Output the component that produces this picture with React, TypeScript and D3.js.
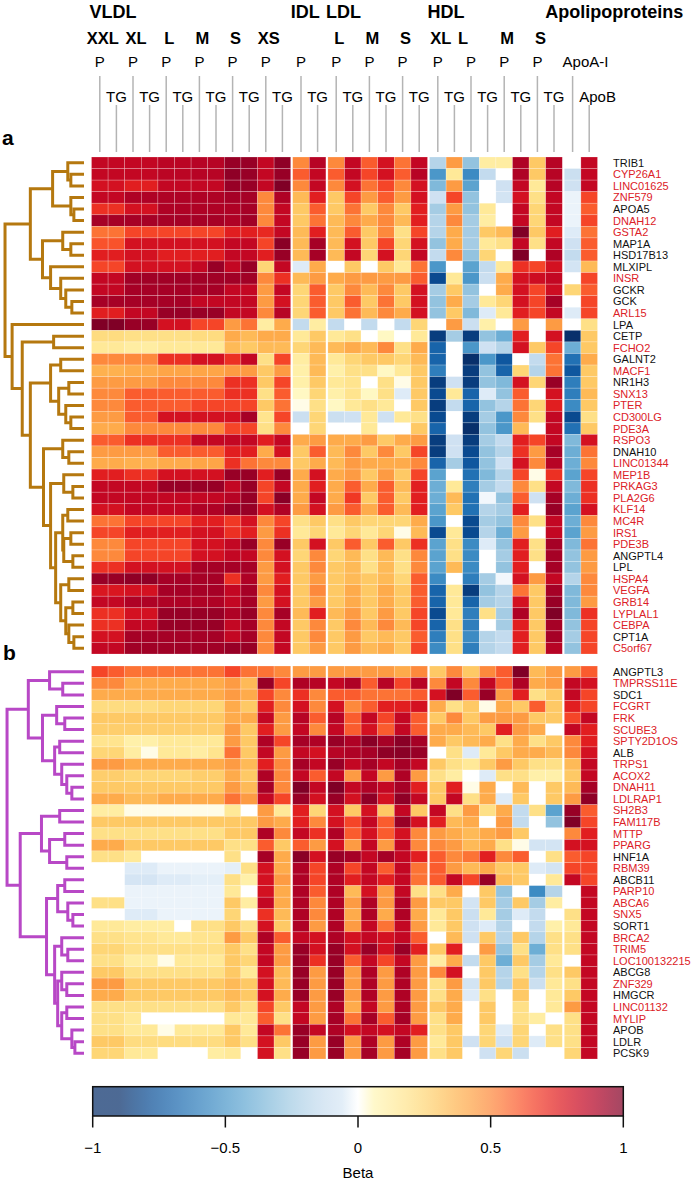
import * as d3 from 'd3';

// ---- data ----
const lipoGroups = ['VLDL', 'IDL', 'LDL', 'HDL', 'Apolipoproteins'];
const colGroup = [0,0,0,0,0,0,0,0,0,0,0,0, 1,1, 2,2,2,2,2,2, 3,3,3,3,3,3,3,3, 4,4];
const colSize = ['XXL','XXL','XL','XL','L','L','M','M','S','S','XS','XS','','','L','L','M','M','S','S','XL','XL','L','L','M','M','S','S','',''];
const colMeasure = ['P','TG','P','TG','P','TG','P','TG','P','TG','P','TG','P','TG','P','TG','P','TG','P','TG','P','TG','P','TG','P','TG','P','TG','ApoA-I','ApoB'];

const genesA = ['TRIB1','CYP26A1','LINC01625','ZNF579','APOA5','DNAH12','GSTA2','MAP1A','HSD17B13','MLXIPL','INSR','GCKR','GCK','ARL15','LPA','CETP','FCHO2','GALNT2','MACF1','NR1H3','SNX13','PTER','CD300LG','PDE3A','RSPO3','DNAH10','LINC01344','MEP1B','PRKAG3','PLA2G6','KLF14','MC4R','IRS1','PDE3B','ANGPTL4','LPL','HSPA4','VEGFA','GRB14','LYPLAL1','CEBPA','CPT1A','C5orf67'];
const genesB = ['ANGPTL3','TMPRSS11E','SDC1','FCGRT','FRK','SCUBE3','SPTY2D1OS','ALB','TRPS1','ACOX2','DNAH11','LDLRAP1','SH2B3','FAM117B','MTTP','PPARG','HNF1A','RBM39','ABCB11','PARP10','ABCA6','SNX5','SORT1','BRCA2','TRIM5','LOC100132215','ABCG8','ZNF329','HMGCR','LINC01132','MYLIP','APOB','LDLR','PCSK9'];
// loci shown in red
const novelGenes = ['CYP26A1','LINC01625','ZNF579','DNAH12','GSTA2','INSR','ARL15','FCHO2','MACF1','SNX13','PTER','CD300LG','PDE3A','RSPO3','LINC01344','MEP1B','PRKAG3','PLA2G6','KLF14','MC4R','IRS1','PDE3B','HSPA4','VEGFA','GRB14','LYPLAL1','CEBPA','C5orf67',
  'TMPRSS11E','FCGRT','FRK','SCUBE3','SPTY2D1OS','TRPS1','ACOX2','DNAH11','LDLRAP1','SH2B3','FAM117B','MTTP','PPARG','RBM39','PARP10','ABCA6','SNX5','BRCA2','TRIM5','LOC100132215','ZNF329','LINC01132','MYLIP'];

const betaA = [
  [0.85,0.85,0.85,0.85,0.87,0.87,0.88,0.88,0.95,0.95,0.85,0.97,0.5,0.88,0.5,0.85,0.6,0.8,0.55,0.85,-0.2,0.45,-0.3,0.12,0.12,0.9,0.3,0.88,0,0.85],
  [0.85,0.85,0.85,0.85,0.87,0.87,0.88,0.88,0.97,0.95,0.85,0.95,0.6,0.85,0.6,0.85,0.65,0.8,0.6,0.88,-0.5,0.15,-0.55,-0.15,0,0.9,0.3,0.88,-0.12,0.85],
  [0.8,0.8,0.75,0.75,0.85,0.85,0.85,0.85,0.95,0.95,0.85,1.0,0.5,0.85,0.5,0.8,0.55,0.65,0.5,0.8,-0.35,0.45,-0.45,0,-0.1,0.85,0.15,0.88,-0.1,0.85],
  [0.85,0.85,0.9,0.9,0.9,0.9,0.9,0.9,0.92,0.92,0.5,0.9,0.35,0.75,0.3,0.65,0.45,0.6,0.45,0.8,-0.1,0.65,-0.3,0,-0.08,0.8,0.2,0.85,-0.03,0.65],
  [0.7,0.7,0.8,0.8,0.9,0.9,0.9,0.9,0.9,0.92,0.5,0.85,0.3,0.6,0.3,0.55,0.3,0.5,0.3,0.75,-0.25,0.45,-0.3,0.15,0,0.85,0.25,0.85,-0.03,0.6],
  [0.92,0.92,0.92,0.92,0.92,0.92,0.92,0.92,0.9,0.93,0.5,0.85,0.3,0.55,0.35,0.5,0.4,0.5,0.35,0.75,-0.2,0.5,-0.25,0.12,0,0.85,0.25,0.85,-0.03,0.65],
  [0.55,0.55,0.65,0.65,0.65,0.65,0.65,0.65,0.75,0.75,0.72,0.85,0.35,0.75,0.35,0.6,0.3,0.5,0.2,0.65,-0.2,0.4,-0.25,0.3,0.35,1.0,0.3,0.75,-0.05,0.55],
  [0.62,0.62,0.8,0.8,0.8,0.8,0.8,0.8,0.85,0.85,0.65,0.98,0.35,0.92,0.35,0.8,0.3,0.65,0.25,0.8,-0.3,0.4,-0.25,0.15,0.2,0.85,0.2,0.85,-0.1,0.6],
  [0.75,0.75,0.8,0.8,0.75,0.75,0.75,0.75,0.85,0.85,0.75,0.95,0.35,0.92,0.35,0.85,0.25,0.8,0.25,0.85,-0.15,0.5,-0.3,0.25,0,1.0,0,0.9,-0.15,0.6],
  [0.65,0.65,0.8,0.8,0.8,0.8,0.85,0.95,0.85,0.95,0.25,0.85,-0.05,0.4,0,0.3,0,0.3,0.15,0.55,-0.5,0,-0.45,-0.15,0.15,0.7,0.65,0.8,-0.08,0.35],
  [0.85,0.85,0.93,0.93,0.93,0.93,0.93,0.93,0.93,0.93,0.5,0.7,0.35,0.45,0.4,0.45,0.45,0.45,0.45,0.6,-0.8,0.15,-0.5,-0.12,0.4,0.8,0.82,0.85,0,0.65],
  [0.85,0.85,0.92,0.92,0.92,0.92,0.92,0.92,0.85,0.85,0.45,0.85,0.25,0.6,0.3,0.5,0.35,0.5,0.3,0.8,-0.25,0.3,-0.3,0,0.4,0.8,0.65,0.82,0.25,0.6],
  [0.92,0.92,0.92,0.92,0.92,0.92,0.85,0.85,0.85,0.85,0.45,0.8,0.25,0.6,0.3,0.6,0.3,0.55,0.3,0.8,-0.3,0.4,-0.25,0.15,0.25,0.8,0.65,0.92,0,0.65],
  [0.75,0.75,0.85,0.85,0.95,0.95,0.95,0.95,0.85,0.85,0.5,0.88,0.25,0.6,0.3,0.55,0.35,0.5,0.4,0.8,-0.3,0.3,-0.35,-0.05,0.15,0.75,0.65,0.85,-0.05,0.65],
  [1.0,1.0,0.95,0.95,0.8,0.8,0.65,0.65,0.45,0.55,0.12,0.4,-0.15,0.12,-0.15,0,-0.15,0,-0.15,0.25,0,0.45,-0.12,0.1,0,0.45,0,0.45,0,0.2],
  [0.22,0.22,0.2,0.2,0.2,0.2,0.22,0.22,0.4,0.35,0.4,0.4,0.15,0.3,0.15,0.2,0,0.05,0,0.15,-0.85,-0.25,-0.85,-0.3,-0.4,0.75,0,0.8,-0.9,0.3],
  [0.15,0.15,0.12,0.12,0.15,0.15,0.15,0.15,0.35,0.3,0.35,0.35,0.25,0.35,0.35,0.4,0.35,0.5,0.2,0.4,-0.7,0,-0.5,-0.1,-0.2,0.8,0.3,0.65,-0.4,0.3],
  [0.5,0.5,0.5,0.5,0.7,0.7,0.8,0.8,0.7,0.85,0.2,0.65,0.12,0.35,0.15,0.25,0.3,0.3,0.25,0.35,-0.7,0,-0.9,-0.5,-0.75,0,-0.15,0.55,-0.65,0.4],
  [0.38,0.38,0.4,0.4,0.42,0.42,0.42,0.42,0.45,0.45,0.3,0.45,0.1,0.35,0.1,0.2,0.2,0.05,0.15,0.3,-0.6,0,-0.85,-0.3,-0.7,0.25,-0.2,0.55,-0.75,0.3],
  [0.45,0.45,0.45,0.45,0.5,0.5,0.5,0.5,0.7,0.7,0.3,0.65,0.1,0.3,0.15,0.18,0,0.2,0.02,0.3,-0.85,-0.1,-0.85,-0.3,-0.35,0.8,0.25,0.95,-0.6,0.3],
  [0.5,0.5,0.6,0.6,0.6,0.6,0.6,0.6,0.7,0.7,0.2,0.6,0.05,0.25,0.1,0.18,0.05,0.2,-0.05,0.3,-0.8,0.15,-0.7,-0.05,-0.3,0.6,0,0.8,-0.6,0.35],
  [0.5,0.5,0.6,0.6,0.6,0.6,0.65,0.65,0.65,0.65,0.3,0.55,0.02,0.2,0.05,0.15,0.2,0.15,0,0.3,-0.85,-0.15,-0.7,-0.3,-0.2,0.55,0.25,0.75,-0.55,0.3],
  [0.45,0.45,0.6,0.6,0.8,0.8,0.8,0.8,0.8,0.92,0.18,0.65,-0.12,0.25,-0.12,-0.1,0.15,-0.1,0.15,0.2,-0.8,0,-0.85,-0.25,-0.5,0.5,0.2,0.85,-0.8,0.2],
  [0.4,0.4,0.5,0.5,0.5,0.5,0.5,0.5,0.65,0.65,0.2,0.5,0,0.25,0,0,0.15,0,0,0.3,-0.7,0,-0.9,-0.3,-0.5,0.35,0,0.85,-0.65,0.3],
  [0.6,0.6,0.7,0.7,0.7,0.7,0.85,0.85,0.85,0.85,0.75,0.85,0.4,0.45,0.4,0.4,0.45,0.3,0.4,0.45,-0.85,-0.1,-0.85,-0.25,-0.15,0.75,0.65,0.85,-0.35,0.8],
  [0.45,0.45,0.45,0.45,0.6,0.6,0.6,0.6,0.75,0.75,0.4,0.8,0.3,0.6,0.35,0.5,0.3,0.5,0.3,0.65,-0.85,-0.1,-0.8,-0.3,-0.2,0.7,0.45,0.92,-0.4,0.55],
  [0.4,0.4,0.38,0.38,0.4,0.4,0.42,0.42,0.7,0.55,0.5,0.5,0.3,0.4,0.35,0.45,0.4,0.4,0.4,0.5,-0.7,-0.25,-0.75,-0.3,-0.1,0.8,0.5,0.88,-0.4,0.5],
  [0.75,0.75,0.7,0.7,0.8,0.8,0.8,0.8,0.95,0.95,0.75,0.95,0.4,0.8,0.4,0.45,0.3,0.45,0.3,0.65,-0.45,0,-0.65,-0.35,-0.2,0.65,0.02,0.7,-0.45,0.65],
  [0.85,0.85,0.85,0.85,0.95,0.95,0.95,0.95,0.85,0.95,0.65,0.85,0.4,0.75,0.4,0.6,0.4,0.6,0.35,0.75,-0.4,0.15,-0.6,-0.25,-0.15,0.5,0.2,0.85,-0.35,0.7],
  [0.85,0.85,0.85,0.85,0.85,0.85,0.85,0.85,0.88,0.95,0.65,0.98,0.4,0.85,0.4,0.68,0.3,0.6,0.3,0.75,-0.4,0.35,-0.65,-0.02,-0.3,0.6,-0.1,0.92,-0.4,0.7],
  [0.8,0.8,0.85,0.85,0.85,0.85,0.9,0.9,0.95,0.95,0.8,0.9,0.45,0.8,0.45,0.6,0.4,0.6,0.35,0.75,-0.45,0.3,-0.65,-0.2,-0.25,0.75,0,0.95,-0.45,0.8],
  [0.55,0.55,0.65,0.65,0.65,0.65,0.75,0.75,0.68,0.8,0.5,0.65,0.2,0.3,0.2,0.3,0.25,0.25,0.25,0.4,-0.5,0,-0.8,-0.25,-0.3,0.5,0.2,0.85,-0.4,0.5],
  [0.65,0.65,0.75,0.75,0.75,0.75,0.8,0.8,0.7,0.75,0.45,0.7,0.15,0.25,0.15,0.25,0.15,0.25,0.02,0.35,-0.8,0.15,-0.8,-0.2,-0.4,0.45,0,0.85,-0.45,0.45],
  [0.5,0.5,0.65,0.65,0.65,0.65,0.8,0.8,0.85,0.95,0.5,0.95,0.3,0.8,0.3,0.6,0.3,0.6,0.3,0.7,-0.45,0.2,-0.55,-0.05,-0.3,0.75,0.2,0.92,-0.35,0.55],
  [0.5,0.5,0.65,0.65,0.65,0.65,0.8,0.8,0.85,0.85,0.5,0.8,0.25,0.5,0.25,0.35,0.2,0.35,0.2,0.5,-0.45,0.2,-0.55,0,-0.25,0.75,0.2,0.92,-0.3,0.45],
  [0.7,0.7,0.8,0.8,0.8,0.8,0.92,0.92,0.92,0.92,0.45,0.8,0.3,0.5,0.3,0.35,0.2,0.35,0.2,0.5,-0.45,0.35,-0.55,0,-0.3,0.75,0,0.92,-0.3,0.45],
  [0.95,0.95,0.97,0.97,0.92,0.92,0.92,0.92,0.7,0.9,0.45,0.75,0.3,0.45,0.3,0.35,0.3,0.35,0.25,0.6,-0.55,0,-0.6,-0.25,-0.02,0.8,0.45,0.85,-0.2,0.5],
  [0.78,0.78,0.8,0.8,0.92,0.92,0.92,0.92,0.85,0.92,0.5,0.8,0.3,0.5,0.3,0.4,0.3,0.4,0.3,0.6,-0.7,0.15,-0.85,-0.3,-0.2,0.55,0.3,0.92,-0.35,0.5],
  [0.85,0.85,0.9,0.9,0.9,0.9,0.9,0.9,0.85,0.92,0.45,0.8,0.3,0.45,0.3,0.4,0.3,0.4,0.3,0.6,-0.7,0.15,-0.7,-0.25,-0.2,0.8,0.3,0.95,-0.35,0.45],
  [0.7,0.7,0.8,0.8,0.95,0.95,0.95,0.95,0.9,0.95,0.5,0.92,0.35,0.75,0.35,0.45,0.3,0.45,0.3,0.65,-0.8,0.15,-0.6,0.2,-0.25,0.9,0.3,1.0,-0.35,0.7],
  [0.7,0.7,0.85,0.85,0.95,0.95,0.95,0.95,0.85,0.92,0.5,0.85,0.3,0.5,0.3,0.5,0.35,0.5,0.35,0.65,-0.7,0.2,-0.6,0,-0.25,0.75,0.3,0.92,-0.3,0.65],
  [0.8,0.8,0.92,0.92,0.92,0.92,0.92,0.92,0.85,0.92,0.5,0.85,0.3,0.5,0.3,0.45,0.3,0.35,0.3,0.6,-0.6,0.2,-0.55,-0.2,-0.15,0.75,0.3,0.92,-0.25,0.65],
  [0.85,0.85,0.93,0.93,0.93,0.93,0.93,0.93,0.95,0.95,0.5,0.85,0.3,0.45,0.3,0.45,0.35,0.4,0.3,0.65,-0.55,0.2,-0.6,-0.2,-0.15,0.75,0.3,0.88,-0.3,0.65],
];

const betaB = [
  [0.65,0.6,0.55,0.55,0.55,0.55,0.55,0.55,0.65,0.55,0.55,0.5,0.45,0.45,0.45,0.45,0.45,0.45,0.4,0.5,0.3,0.5,0.3,0.5,0.6,1.0,0.35,0.45,0.45,0.6],
  [0.5,0.5,0.4,0.4,0.4,0.4,0.4,0.4,0.45,0.35,0.95,0.65,0.9,0.88,0.85,0.9,0.6,0.88,0.65,0.88,0.5,0.85,0.5,0.85,0.6,0.9,0.4,0.45,0.85,0.8],
  [0.4,0.4,0.4,0.4,0.4,0.4,0.4,0.4,0.45,0.4,0.65,0.5,0.7,0.5,0.6,0.6,0.55,0.55,0.55,0.6,0.8,1.0,0.6,0.95,0.45,0.75,0.2,0.3,0.85,0.65],
  [0.22,0.22,0.22,0.22,0.25,0.25,0.25,0.25,0.4,0.3,0.75,0.5,0.8,0.5,0.8,0.5,0.6,0.75,0.75,0.8,0.4,0.2,0.3,0.02,0.4,0.3,0.6,0.3,0.75,0.65],
  [0.3,0.3,0.3,0.3,0.3,0.3,0.3,0.3,0.4,0.4,0.85,0.45,0.88,0.6,0.88,0.6,0.85,0.65,0.85,0.6,0.3,0.5,0.3,0.45,0.45,0.45,0.3,0.3,0.65,0.85],
  [0.28,0.28,0.28,0.28,0.28,0.28,0.28,0.28,0.45,0.3,0.75,0.45,0.85,0.5,0.85,0.6,0.8,0.6,0.85,0.6,0.4,0.4,0.35,0.3,0.75,0.45,0.4,0,0.85,0.75],
  [0.18,0.18,0.1,0.1,0.15,0.15,0.15,0.15,0.45,0.3,0.9,0.65,0.92,0.9,0.95,0.9,0.98,0.92,0.98,0.92,0.4,0.3,0.35,0.4,0.2,0.4,0.2,0.3,0.5,0.75],
  [0.25,0.25,0.12,0.02,0.15,0.15,0.12,0.18,0.55,0.3,0.85,0.45,0.85,0.8,0.88,0.9,0.92,0.97,0.98,0.95,0,0.2,-0.05,0.15,0.3,0.4,0.4,0.35,0.5,0.8],
  [0.45,0.45,0.4,0.4,0.4,0.4,0.4,0.4,0.45,0.35,0.75,0.5,0.92,0.85,0.95,0.85,0.92,0.85,0.92,0.85,0.3,0.2,0.15,0.3,0.45,0.3,0.2,0.2,0.35,0.85],
  [0.28,0.28,0.25,0.25,0.25,0.25,0.28,0.28,0.4,0.3,0.9,0.5,0.85,0.6,0.85,0.45,0.85,0.45,0.9,0.45,0.2,0.12,0,-0.05,0.2,0.2,0.1,0.1,0.3,0.85],
  [0.3,0.3,0.3,0.3,0.3,0.3,0.3,0.3,0.45,0.35,0.92,0.5,1.0,0.85,1.0,0.85,0.9,0.85,0.92,0.75,0.3,0.75,0.02,0.4,0,0.35,0,0.3,0.35,0.92],
  [0.4,0.4,0.35,0.35,0.4,0.4,0.4,0.4,0.55,0.45,0.85,0.65,0.95,0.8,0.95,0.8,0.97,0.8,0.97,0.85,0.3,0.85,0.2,0.4,-0.05,0.3,0,0.3,0.45,0.97],
  [0.12,0.12,0.02,0.02,0.02,0.02,0.02,0.02,0.15,0,0.45,0.15,0.75,0.25,0.8,0.3,0.8,0.3,0.85,0.3,0.85,0.2,0.45,0.2,0.4,-0.15,0.2,-0.45,0.95,0.6],
  [0.3,0.3,0.3,0.3,0.3,0.3,0.3,0.3,0.3,0.3,0.45,0.4,0.75,0.5,0.8,0.65,0.85,0.6,0.95,0.8,0.75,0.35,0.4,0,0.45,-0.15,0,-0.3,1.0,0.65],
  [0.2,0.2,0.2,0.2,0.2,0.2,0.2,0.2,0.3,0.3,0.9,0.5,0.85,0.7,0.9,0.6,0.8,0.6,0.8,0.5,0.45,0.4,0.35,0.4,0.45,0.3,0,0,0.5,0.75],
  [0.4,0.4,0.3,0.3,0.3,0.3,0.3,0.3,0.2,0.2,0.6,0.3,0.6,0.45,0.8,0.45,0.85,0.45,0.85,0.5,0.5,0.45,0.35,0.4,0.2,0.02,-0.08,-0.08,0.8,0.8],
  [0.2,0.2,0.15,0,0,0,0,0,0.2,0,0.92,0.4,0.98,0.8,0.95,0.92,0.85,0.92,0.85,0.75,0.6,0.5,0.55,0.75,0.5,0.6,0,0.2,0.6,0.65],
  [0,0,-0.05,-0.05,-0.03,-0.03,-0.03,-0.03,-0.04,0.2,0.8,0.4,0.9,0.65,0.9,0.65,0.85,0.6,0.85,0.55,0.6,0.45,0.35,0.4,0.3,0.3,-0.05,-0.08,0.65,0.65],
  [0,0,-0.07,-0.07,-0.05,-0.05,-0.04,-0.04,0.2,0.1,0.8,0.45,0.9,0.65,0.9,0.75,0.85,0.75,0.85,0.55,0.6,0.85,0.65,0.95,0.35,0.3,0,0.15,0.85,0.65],
  [0,0,-0.03,-0.03,-0.03,-0.03,-0.03,-0.03,0.15,0,0.8,0.4,0.9,0.6,0.9,0.35,0.8,0.45,0.85,0.2,0.2,0.4,0,0.3,-0.3,0,-0.55,-0.2,0,0.85],
  [0.2,0.2,-0.03,-0.03,-0.03,-0.03,-0.03,-0.03,0.3,0.12,0.85,0.4,0.9,0.5,0.9,0.45,0.9,0.45,0.9,0.45,0.3,0.3,-0.08,0.3,-0.25,0.3,-0.25,0.12,0,0.85],
  [0,0,-0.05,-0.05,-0.03,-0.03,-0.03,-0.03,0.25,0,0.7,0.35,0.9,0.5,0.9,0.4,0.9,0.4,0.9,0.4,0.15,0.3,-0.12,0.15,-0.25,-0.05,-0.15,0,0.2,0.85],
  [0.15,0.15,0.12,0.12,0.12,0,0.2,0.2,0.3,0.2,0.8,0.3,0.9,0.45,0.9,0.45,0.85,0.55,0.85,0.45,0.15,0.3,-0.1,-0.05,-0.2,0,-0.15,0.1,0.15,0.85],
  [0.2,0.2,0.18,0.18,0.15,0.15,0.18,0.18,0.45,0.3,0.9,0.6,0.85,0.8,0.9,0.8,0.85,0.8,0.85,0.6,0,0.35,-0.1,0.3,-0.2,0.3,-0.2,0.2,0.2,0.85],
  [0.25,0.25,0.2,0.2,0.2,0.2,0.2,0.2,0.3,0.2,0.85,0.45,0.95,0.8,0.95,0.8,0.95,0.8,0.95,0.75,0.3,0.75,0,0.45,-0.3,0.2,-0.4,0.2,0.2,0.85],
  [0.2,0.2,0.12,0.12,0.02,0.15,0.15,0.15,0.3,0.25,0.85,0.45,0.95,0.7,0.95,0.6,0.85,0.65,0.85,0.45,0.12,0.4,-0.15,0.3,-0.4,0.3,-0.25,0.15,0,0.85],
  [0.3,0.3,0.2,0.2,0.2,0.2,0.2,0.2,0.3,0.15,0.8,0.35,0.95,0.45,0.95,0.45,0.9,0.45,0.9,0.45,0.5,0.8,0,0.3,-0.2,0.2,-0.2,0.2,0.3,0.85],
  [0.45,0.45,0.3,0.3,0.3,0.3,0.3,0.3,0.35,0.3,0.8,0.35,0.95,0.45,0.95,0.45,0.9,0.45,0.9,0.45,0.2,0.45,-0.08,0.3,-0.2,0.3,-0.12,0.15,0.2,0.85],
  [0.4,0.4,0.3,0.3,0.3,0.3,0.3,0.3,0.35,0.3,0.8,0.4,0.95,0.45,0.95,0.45,0.9,0.45,0.9,0.45,0.2,0.4,-0.05,0.2,0,0.3,0,0.15,0.3,0.85],
  [0.2,0.2,0.2,0.2,0.2,0.2,0.2,0.2,0.3,0.2,0.65,0.3,0.85,0.45,0.9,0.4,0.85,0.45,0.9,0.45,0.3,0.4,0,0.3,0,0.2,0,0.15,0.45,0.85],
  [0.2,0.2,0.15,0,0,0,0,0,0.15,0.15,0.6,0.2,0.85,0.45,0.92,0.55,0.92,0.6,0.92,0.45,0.2,0.4,0,0.3,0,0.2,0.12,0,0.2,0.85],
  [0.2,0.2,0.15,0.15,0.02,0.15,0.15,0.15,0.3,0.15,0.85,0.55,0.95,0.85,0.9,0.8,0.85,0.8,0.85,0.75,0.2,0.3,0,0.25,-0.05,0.25,0,0.2,0.2,0.85],
  [0.3,0.3,0.22,0.22,0.22,0.22,0.22,0.22,0.3,0.2,0.8,0.3,0.95,0.45,0.95,0.45,0.9,0.45,0.9,0.45,0.15,0.3,-0.1,0.25,-0.1,0.25,-0.05,0.2,0.2,0.85],
  [0.25,0.25,0.15,0.15,0,0,0,0.12,0.15,0,0.8,0.2,0.95,0.45,0.95,0.45,0.92,0.45,0.92,0.45,0.2,0.3,0,-0.1,0.25,-0.12,0,0,0.25,0.85],
];

// dendrograms: leaf = row index, node = [merge height, left, right]
type Node = number | [number, Node, Node];
const treeA: Node = [78,
  [53,
    [31, [16, 0, [13, 1, 2]], [13, 3, [10, 4, 5]]],
    [41, [21, 6, [13, 7, 8]], [33, 9, [23, 10, [18, 11, [12, 12, 13]]]]]],
  [71, 14,
    [61, [30, 15, 16],
      [53,
        [33, [23, 17, 18], [25, [15, 19, 20], [18, 21, [13, 22, 23]]]],
        [40, [21, 24, [15, 25, 26]],
          [33, [20, 27, [11, 28, 29]],
            [28, [21, [16, 30, 31], [20, [13, 32, 33], [11, 34, 35]]],
              [23, [15, 36, 37], [18, [11, 38, 39], [15, 40, [10, 41, 42]]]]]]]]]]];
const treeB: Node = [76,
  [55, [34, 0, [21, 1, 2]],
    [41, [27, 3, [19, 4, 5]], [29, [24, 6, 7], [22, 8, [17, 9, [12, 10, 11]]]]]],
  [63, [42, [24, 12, 13], [34, [19, 14, 15], [17, 16, 17]]],
    [37, [26, [19, 18, 19], [16, 20, [11, 21, 22]]],
      [29, [22, 23, [16, 24, 25]],
        [26, [22, 26, [17, 27, 28]], [22, [17, 29, 30], [12, 31, [9, 32, 33]]]]]]]];

const legendTicks = [-1, -0.5, 0, 0.5, 1];

// ---- layout ----
const W = 696, H = 1182;
const X0 = 91.5, CW = 16.6, GAP = 2;
const FONT = "'Liberation Sans', Arial, Helvetica, sans-serif";
const colX = d3.scaleLinear().domain([0, 30]).range([X0, X0 + 30 * CW]);
const cx = (c: number) => colX(c) + colGroup[c] * GAP;
const hx = d3.scaleLinear().domain([0, 80]).range([84, 3]);

function betaColor(v: number) {
  const a = Math.abs(v);
  const ramp = v >= 0 ? (t: number) => d3.interpolateYlOrRd(t) : (t: number) => d3.interpolateBlues(Math.min(1, 0.1 + t));
  if (a < 0.06) return d3.interpolateRgb('#ffffff', ramp(0.06))(a / 0.06);
  return ramp(Math.min(1, a));
}

function dendro(tree: Node, leafY: (i: number) => number) {
  const segs: string[] = [];
  const walk = (n: Node): { x: number; y: number } => {
    if (typeof n === 'number') return { x: hx(0), y: leafY(n) };
    const [h, l, r] = n;
    const a = walk(l), b = walk(r);
    const x = hx(h);
    segs.push(`M${a.x},${a.y}H${x}V${b.y}H${b.x}`);
    return { x, y: (a.y + b.y) / 2 };
  };
  walk(tree);
  return segs;
}

function Panel({ genes, values, tree, y0, y1, color }: any) {
  const y = d3.scaleBand<string>().domain(genes).range([y0, y1]);
  const bw = y.bandwidth();
  const segs = dendro(tree, i => (y(genes[i]) as number) + bw / 2);
  return (
    <g>
      {values.map((row: number[], r: number) =>
        row.map((v, c) => (
          <rect key={r + '-' + c} x={cx(c)} y={y(genes[r])} width={CW} height={bw}
            fill={betaColor(v)} stroke="#ffffff" strokeOpacity={0.35} strokeWidth={0.6} />
        )))}
      {segs.map((d, i) => <path key={i} d={d} fill="none" stroke={color} strokeWidth={3} />)}
      {genes.map((g: string) => (
        <text key={g} x={613} y={(y(g) as number) + bw / 2} dy="0.36em" fontSize={11}
          fill={novelGenes.includes(g) ? '#dc2127' : '#111'}>{g}</text>
      ))}
    </g>
  );
}

export default function App() {
  const legendX = d3.scaleLinear().domain([-1, 1]).range([92.7, 623.3]);
  const stops = d3.range(0, 101).map(i => -1 + i * 0.02);
  const fmt = d3.format('');
  const firstCol = lipoGroups.map((_, g) => colGroup.indexOf(g));
  return (
    <svg width={W} height={H} style={{ position: 'absolute', left: 0, top: 0 }} fontFamily={FONT}>
      <rect width={W} height={H} fill="#fff" />
      {/* headers */}
      {lipoGroups.map((g, i) => (
        <text key={g} x={i === 4 ? cx(firstCol[i]) - 19 : cx(firstCol[i]) - 2} y={17.5}
          fontSize={18} fontWeight="bold">{g}</text>
      ))}
      {colMeasure.map((m, c) => m === 'P' && colSize[c] ? (
        <text key={'s' + c} x={cx(c) + CW / 2 + (c === 22 ? -8 : 3)} y={43.5} fontSize={16.5} fontWeight="bold" textAnchor="middle">{colSize[c]}</text>
      ) : null)}
      {colMeasure.map((m, c) => {
        const upper = m === 'P' || m === 'ApoA-I';
        const xc = cx(c) + CW / 2;
        const apo = m.startsWith('Apo');
        return (
          <g key={'m' + c}>
            <line x1={xc} x2={xc} y1={upper ? 76 : 105} y2={152} stroke="#b4b4b4" strokeWidth={1.5} />
            <text x={apo ? xc - 10 : xc} y={upper ? 67 : 102} fontSize={15}
              textAnchor={apo ? 'start' : 'middle'}>{m}</text>
          </g>
        );
      })}
      <text x={2} y={145} fontSize={21} fontWeight="bold">a</text>
      <text x={3} y={660} fontSize={21} fontWeight="bold">b</text>
      <Panel genes={genesA} values={betaA} tree={treeA} y0={157} y1={654} color="#b5780f" />
      <Panel genes={genesB} values={betaB} tree={treeB} y0={666} y1={1059} color="#b848c6" />
      {/* colour key */}
      <defs>
        <linearGradient id="key" x1="0" x2="1" y1="0" y2="0">
          {stops.map(v => (
            <stop key={v} offset={(v + 1) / 2} stopColor={betaColor(v)} stopOpacity={0.72} />
          ))}
        </linearGradient>
      </defs>
      <rect x={legendX(-1)} y={1086.7} width={legendX(1) - legendX(-1)} height={29.3}
        fill="url(#key)" stroke="#111" strokeWidth={1.5} />
      {legendTicks.map(t => (
        <g key={t}>
          <line x1={legendX(t)} x2={legendX(t)} y1={1116} y2={1127.5} stroke="#111" strokeWidth={1.5} />
          <text x={legendX(t)} y={1153} fontSize={15} textAnchor="middle">{fmt(t)}</text>
        </g>
      ))}
      <text x={legendX(0)} y={1178} fontSize={15} textAnchor="middle">Beta</text>
    </svg>
  );
}
